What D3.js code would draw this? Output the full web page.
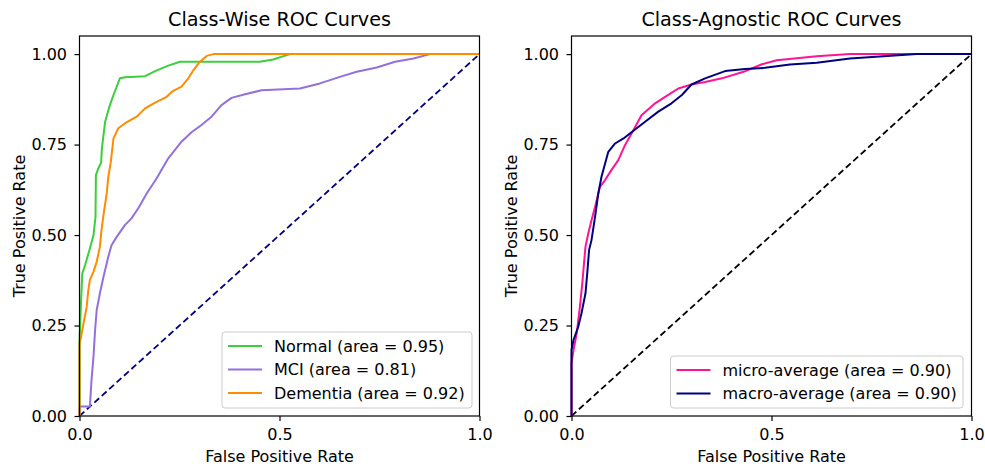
<!DOCTYPE html>
<html lang="en">
<head>
  <meta charset="UTF-8">
  <title>ROC Curves</title>
  <script src="https://d3js.org/d3.v7.min.js"></script>
  <style>
    body { margin: 0; background: #fff; }
    text { font-family: "DejaVu Sans", sans-serif; fill: #000; }
  </style>
</head>
<body>
  <svg width="985" height="467"></svg>

  <script>
    // [fpr, tpr] pairs
    const normalRoc = [[0,0],[0,0.205],[0.004,0.32],[0.007,0.394],[0.014,0.417],[0.026,0.463],[0.035,0.5],[0.04,0.55],[0.041,0.666],[0.047,0.684],[0.054,0.70],[0.056,0.74],[0.06,0.776],[0.064,0.813],[0.076,0.859],[0.085,0.887],[0.101,0.933],[0.114,0.936],[0.164,0.939],[0.189,0.953],[0.222,0.968],[0.251,0.979],[0.451,0.979],[0.484,0.985],[0.526,1.0],[1,1]];
    const mciRoc = [[0,0],[0,0.026],[0.026,0.026],[0.03,0.099],[0.035,0.164],[0.039,0.238],[0.043,0.293],[0.051,0.339],[0.06,0.385],[0.072,0.44],[0.08,0.472],[0.093,0.495],[0.114,0.528],[0.13,0.546],[0.147,0.574],[0.168,0.615],[0.193,0.657],[0.222,0.712],[0.255,0.758],[0.28,0.784],[0.305,0.804],[0.33,0.827],[0.355,0.859],[0.38,0.879],[0.414,0.889],[0.455,0.90],[0.551,0.905],[0.601,0.919],[0.651,0.937],[0.693,0.951],[0.743,0.963],[0.789,0.979],[0.835,0.988],[0.876,1.0],[1,1]];
    const dementiaRoc = [[0,0],[0,0.2],[0.004,0.219],[0.01,0.256],[0.018,0.302],[0.022,0.348],[0.026,0.376],[0.035,0.399],[0.043,0.426],[0.051,0.468],[0.055,0.514],[0.06,0.555],[0.068,0.615],[0.072,0.661],[0.078,0.70],[0.085,0.767],[0.097,0.795],[0.114,0.809],[0.143,0.827],[0.164,0.85],[0.189,0.866],[0.218,0.882],[0.231,0.896],[0.255,0.91],[0.272,0.933],[0.285,0.956],[0.301,0.979],[0.318,0.995],[0.335,1.0],[1,1]];
    const microRoc = [[0,0],[0,0.146],[0.005,0.182],[0.013,0.228],[0.021,0.302],[0.027,0.367],[0.032,0.431],[0.035,0.468],[0.042,0.505],[0.05,0.541],[0.059,0.578],[0.071,0.633],[0.084,0.652],[0.1,0.68],[0.117,0.707],[0.134,0.749],[0.155,0.79],[0.175,0.831],[0.209,0.864],[0.234,0.882],[0.267,0.905],[0.3,0.916],[0.334,0.923],[0.376,0.933],[0.43,0.951],[0.476,0.972],[0.513,0.983],[0.613,0.994],[0.696,1.0],[1,1]];
    const macroRoc = [[0,0],[0,0.182],[0.005,0.21],[0.017,0.247],[0.025,0.284],[0.035,0.339],[0.04,0.403],[0.044,0.459],[0.05,0.486],[0.059,0.551],[0.067,0.615],[0.075,0.661],[0.084,0.698],[0.092,0.73],[0.109,0.753],[0.13,0.767],[0.15,0.784],[0.184,0.813],[0.217,0.841],[0.25,0.864],[0.276,0.887],[0.3,0.916],[0.334,0.933],[0.384,0.953],[0.434,0.959],[0.484,0.962],[0.546,0.971],[0.613,0.976],[0.696,0.988],[0.78,0.994],[0.863,1.0],[1,1]];

    const xTicks = [0, 0.5, 1.0];
    const yTicks = [0, 0.25, 0.5, 0.75, 1.0];

    const svg = d3.select("svg");
    const plotTop = 36, plotBottom = 416, plotW = 400;
    const fontSize = "16px";

    function drawPanel(left, title, series, diagColor, legendBox) {
      const x = d3.scaleLinear().domain([0, 1]).range([left, left + plotW]);
      const y = d3.scaleLinear().domain([0, 1.05]).range([plotBottom, plotTop]);
      const g = svg.append("g");

      const line = d3.line().x(d => x(d[0])).y(d => y(d[1]));

      // chance line
      g.append("path")
        .attr("d", line([[0, 0], [1, 1]]))
        .attr("fill", "none")
        .attr("stroke", diagColor)
        .attr("stroke-width", 1.8)
        .attr("stroke-dasharray", "6.5,3.5");

      series.forEach(s => {
        g.append("path")
          .attr("d", line(s.data))
          .attr("fill", "none")
          .attr("stroke", s.color)
          .attr("stroke-width", 2)
          .attr("stroke-linejoin", "round");
      });

      // frame
      g.append("rect")
        .attr("x", left).attr("y", plotTop)
        .attr("width", plotW).attr("height", plotBottom - plotTop)
        .attr("fill", "none").attr("stroke", "#000").attr("stroke-width", 1.2);

      const xAxis = g.append("g")
        .attr("transform", `translate(0,${plotBottom})`)
        .call(d3.axisBottom(x).tickValues(xTicks).tickFormat(d3.format(".1f"))
          .tickSize(5).tickSizeOuter(0).tickPadding(7.5));
      const yAxis = g.append("g")
        .attr("transform", `translate(${left},0)`)
        .call(d3.axisLeft(y).tickValues(yTicks).tickFormat(d3.format(".2f"))
          .tickSize(5).tickSizeOuter(0).tickPadding(7.5));
      [xAxis, yAxis].forEach(a => {
        a.select(".domain").remove();
        a.selectAll("line").attr("stroke", "#000").attr("stroke-width", 1.2);
        a.selectAll("text").style("font-size", fontSize).style("font-family", "DejaVu Sans");
      });

      g.append("text")
        .attr("x", left + plotW / 2).attr("y", 26)
        .attr("text-anchor", "middle")
        .style("font-size", "19.2px")
        .text(title);

      g.append("text")
        .attr("x", left + plotW / 2).attr("y", 462)
        .attr("text-anchor", "middle")
        .style("font-size", fontSize)
        .text("False Positive Rate");

      g.append("text")
        .attr("transform", `translate(${left - 55},${(plotTop + plotBottom) / 2}) rotate(-90)`)
        .attr("text-anchor", "middle")
        .style("font-size", fontSize)
        .text("True Positive Rate");

      // legend
      const lg = g.append("g");
      lg.append("rect")
        .attr("x", legendBox.x).attr("y", legendBox.y)
        .attr("width", legendBox.w).attr("height", legendBox.h)
        .attr("rx", 3)
        .attr("fill", "#fff").attr("fill-opacity", 0.8)
        .attr("stroke", "#cccccc").attr("stroke-width", 1);
      series.forEach((s, i) => {
        const cy = legendBox.y + 14 + i * 23.5;
        lg.append("line")
          .attr("x1", legendBox.x + 6).attr("x2", legendBox.x + 40)
          .attr("y1", cy).attr("y2", cy)
          .attr("stroke", s.color).attr("stroke-width", 2);
        lg.append("text")
          .attr("x", legendBox.x + 52).attr("y", cy + 5.8)
          .style("font-size", fontSize)
          .text(s.label);
      });
    }

    drawPanel(79.5, "Class-Wise ROC Curves", [
      { label: "Normal (area = 0.95)", color: "#3ccf3c", data: normalRoc },
      { label: "MCI (area = 0.81)", color: "#9370db", data: mciRoc },
      { label: "Dementia (area = 0.92)", color: "#ff8c00", data: dementiaRoc }
    ], "#000080", { x: 222, y: 332, w: 250, h: 76 });

    drawPanel(571.5, "Class-Agnostic ROC Curves", [
      { label: "micro-average (area = 0.90)", color: "#ff1493", data: microRoc },
      { label: "macro-average (area = 0.90)", color: "#000080", data: macroRoc }
    ], "#000000", { x: 670.5, y: 356, w: 292.5, h: 52 });
  </script>
</body>
</html>
